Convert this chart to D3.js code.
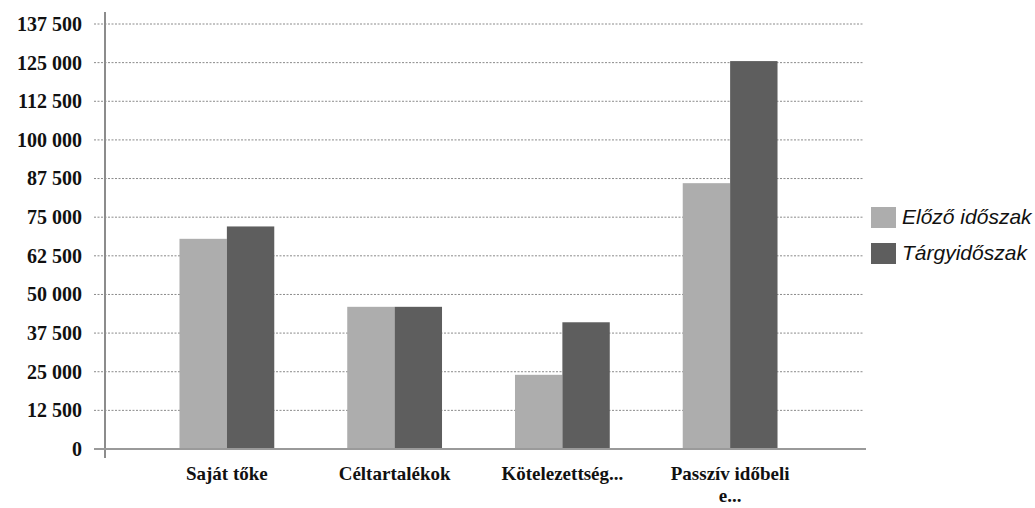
<!DOCTYPE html>
<html>
<head>
<meta charset="utf-8">
<script src="https://cdn.jsdelivr.net/npm/d3@7"></script>
<style>
body { margin: 0; background: #fff; }
</style>
</head>
<body>
<div id="chart"></div>
<script>
// data
var categories = ["Saját tőke", "Céltartalékok", "Kötelezettség...", "Passzív időbeli e..."];
var seriesNames = ["Előző időszak", "Tárgyidőszak"];
var previous = [68000, 46000, 24000, 86000];
var current = [72000, 46000, 41000, 125500];
var yTicks = [0, 12500, 25000, 37500, 50000, 62500, 75000, 87500, 100000, 112500, 125000, 137500];

var width = 1035, height = 508;
var colors = ["#adadad", "#5e5e5e"];
var serif = "'Liberation Serif', 'Times New Roman', serif";

var svg = d3.select("#chart")
.append("svg")
.attr("width", width)
.attr("height", height);

var yScale = d3.scaleLinear()
.domain([0, 137500])
.range([449, 24]);

var xScale = d3.scaleBand()
.domain(categories)
.range([143, 814])
.paddingInner(0.435)
.paddingOuter(0.2175);

var xInner = d3.scaleBand()
.domain(seriesNames)
.range([0, xScale.bandwidth()]);

// gridlines
svg.append("g")
.selectAll("line")
.data(yTicks.slice(1))
.enter().append("line")
.attr("x1", 94)
.attr("x2", 864)
.attr("y1", function(d) { return yScale(d); })
.attr("y2", function(d) { return yScale(d); })
.attr("stroke", "#8a8a8a")
.attr("stroke-width", 1)
.attr("stroke-dasharray", "2,1.5");

// y axis labels
var fmt = function(d) { return d3.format(",")(d).replace(/,/g, " "); };
var yAxis = d3.axisLeft(yScale).tickValues(yTicks).tickSize(0).tickPadding(0).tickFormat(fmt);
var gY = svg.append("g")
.attr("transform", "translate(82,0)")
.call(yAxis);
gY.select(".domain").remove();
gY.selectAll("text")
.attr("font-family", serif)
.attr("font-weight", "bold")
.attr("font-size", "20px")
.attr("fill", "#111");

// bars
var groups = svg.append("g")
.selectAll("g")
.data(categories)
.enter().append("g")
.attr("transform", function(d) { return "translate(" + xScale(d) + ",0)"; });

groups.selectAll("rect")
.data(function(d, i) { return [{s: seriesNames[0], v: previous[i]}, {s: seriesNames[1], v: current[i]}]; })
.enter().append("rect")
.attr("x", function(d) { return xInner(d.s); })
.attr("width", xInner.bandwidth())
.attr("y", function(d) { return yScale(d.v); })
.attr("height", function(d) { return yScale(0) - yScale(d.v); })
.attr("fill", function(d, i) { return colors[i]; });

// axis lines
svg.append("line")
.attr("x1", 105).attr("x2", 105)
.attr("y1", 12).attr("y2", 458)
.attr("stroke", "#8c8c8c").attr("stroke-width", 2);
svg.append("line")
.attr("x1", 94).attr("x2", 866)
.attr("y1", yScale(0)).attr("y2", yScale(0))
.attr("stroke", "#9a9a9a").attr("stroke-width", 2);

// category labels
var catText = svg.append("g")
.selectAll("text")
.data(categories)
.enter().append("text")
.attr("x", function(d) { return xScale(d) + xScale.bandwidth() / 2; })
.attr("y", 480)
.attr("text-anchor", "middle")
.attr("font-family", serif)
.attr("font-weight", "bold")
.attr("font-size", "19px")
.attr("fill", "#111");

catText.each(function(d) {
    var t = d3.select(this);
    if (d == "Passzív időbeli e...") {
        t.append("tspan").attr("x", t.attr("x")).text("Passzív időbeli");
        t.append("tspan").attr("x", t.attr("x")).attr("dy", 22).text("e...");
    } else {
        t.text(d);
    }
});

// legend
var legend = svg.append("g")
.selectAll("g")
.data(seriesNames)
.enter().append("g")
.attr("transform", function(d, i) { return "translate(871," + (207 + i * 36) + ")"; });

legend.append("rect")
.attr("width", 25)
.attr("height", 21)
.attr("fill", function(d, i) { return colors[i]; });

legend.append("text")
.attr("x", 31)
.attr("y", 17)
.attr("font-family", "'Liberation Sans', Arial, sans-serif")
.attr("font-style", "italic")
.attr("font-size", "21px")
.attr("fill", "#111")
.text(function(d) { return d; });
</script>
</body>
</html>
